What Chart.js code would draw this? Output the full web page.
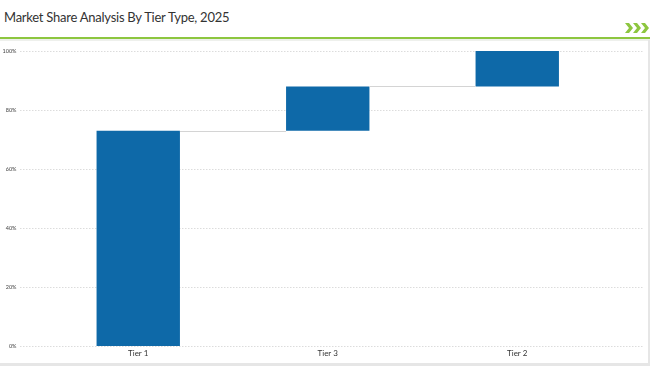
<!DOCTYPE html>
<html>
<head>
<meta charset="utf-8">
<script src="https://cdn.jsdelivr.net/npm/chart.js@4.4.1/dist/chart.umd.min.js"></script>
<style>
  html, body { margin: 0; padding: 0; background: #fff; }
  #wrap { position: relative; width: 650px; height: 366px; overflow: hidden; background: #fff; }
  #title { position: absolute; left: 4px; top: 9px; font-family: Lato, "Open Sans", sans-serif; font-size: 13px; letter-spacing: -0.25px; color: #333; white-space: nowrap; }
  #rule { position: absolute; left: 0; top: 37px; width: 650px; height: 2px; background: #8dc63f; }
  #shade { position: absolute; left: 0; top: 39px; width: 650px; height: 2px; background: #eef0ec; }
  #chev { position: absolute; left: 625px; top: 23px; }
  #frameR { position: absolute; left: 648px; top: 40px; width: 2px; height: 326px; background: #e6e6e6; }
  #frameB { position: absolute; left: 0; top: 363px; width: 650px; height: 3px; background: #e6e6e6; }
  #c { position: absolute; left: 0; top: 0; }
</style>
</head>
<body>
<div id="wrap">
  <div id="title">Market Share Analysis By Tier Type, 2025</div>
  <div id="rule"></div>
  <div id="shade"></div>
  <svg id="chev" width="24" height="10" viewBox="0 0 24 10">
    <polygon points="0,0 4,0 8,5 4,10 0,10 4,5" fill="#8dc63f"/>
    <polygon points="8,0 12,0 16,5 12,10 8,10 12,5" fill="#8dc63f"/>
    <polygon points="16,0 20,0 24,5 20,10 16,10 20,5" fill="#8dc63f"/>
  </svg>
  <div id="frameR"></div>
  <div id="frameB"></div>
  <canvas id="c" width="650" height="366"></canvas>
</div>
<script>
// chart values
const categories = ['Tier 1', 'Tier 3', 'Tier 2'];
const shares = [73, 15, 12];
const yTicks = [0, 20, 40, 60, 80, 100];

// waterfall: each bar floats on top of the previous total
let running = 0;
const floating = shares.map(v => {
  const seg = [running, running + v];
  running += v;
  return seg;
});

const barColor = '#0e69a8';

// dotted grid lines wider than the plot area
const gridPlugin = {
  id: 'wideGrid',
  beforeDatasetsDraw(chart) {
    const ctx = chart.ctx;
    const y = chart.scales.y;
    ctx.save();
    ctx.strokeStyle = '#dcdcdc';
    ctx.lineWidth = 1;
    ctx.setLineDash([1.5, 1.5]);
    yTicks.forEach(t => {
      const py = Math.round(y.getPixelForValue(t)) + 0.5;
      ctx.beginPath();
      ctx.moveTo(20, py);
      ctx.lineTo(644, py);
      ctx.stroke();
    });
    ctx.restore();
  }
};

// connector lines between waterfall steps
const connectorPlugin = {
  id: 'connectors',
  afterDatasetsDraw(chart) {
    const ctx = chart.ctx;
    const bars = chart.getDatasetMeta(0).data;
    const y = chart.scales.y;
    ctx.save();
    ctx.strokeStyle = '#d4d4d4';
    ctx.lineWidth = 1;
    for (let i = 0; i < bars.length - 1; i++) {
      const a = bars[i], b = bars[i + 1];
      const py = Math.round(y.getPixelForValue(floating[i][1])) + 0.5;
      ctx.beginPath();
      ctx.moveTo(a.x + a.width / 2, py);
      ctx.lineTo(b.x - b.width / 2, py);
      ctx.stroke();
    }
    ctx.restore();
  }
};

new Chart(document.getElementById('c'), {
  type: 'bar',
  data: {
    labels: categories,
    datasets: [{
      data: floating,
      backgroundColor: barColor,
      borderWidth: 0,
      categoryPercentage: 1,
      barPercentage: 0.44
    }]
  },
  options: {
    responsive: false,
    animation: false,
    layout: { padding: { top: 51, right: 38, bottom: 0, left: 0 } },
    plugins: { legend: { display: false }, tooltip: { enabled: false } },
    scales: {
      x: {
        grid: { display: false, drawTicks: false },
        border: { display: false },
        afterFit(scale) { scale.height = 20; },
        ticks: { color: '#333', font: { family: 'Lato, "Open Sans", sans-serif', size: 8 }, padding: 3 }
      },
      y: {
        min: 0, max: 100,
        afterBuildTicks(scale) { scale.ticks = yTicks.map(v => ({ value: v })); },
        grid: { display: false, drawTicks: false },
        border: { display: false },
        afterFit(scale) {
          scale.width = 43.5;
          // tick padding is only meant to push labels left, not shrink the plot vertically
          scale.paddingTop = 0;
          scale.paddingBottom = 0;
        },
        ticks: {
          color: '#444',
          font: { family: 'Lato, "Open Sans", sans-serif', size: 5.5 },
          padding: 27,
          callback: v => v + '%'
        }
      }
    }
  },
  plugins: [gridPlugin, connectorPlugin]
});
</script>
</body>
</html>
